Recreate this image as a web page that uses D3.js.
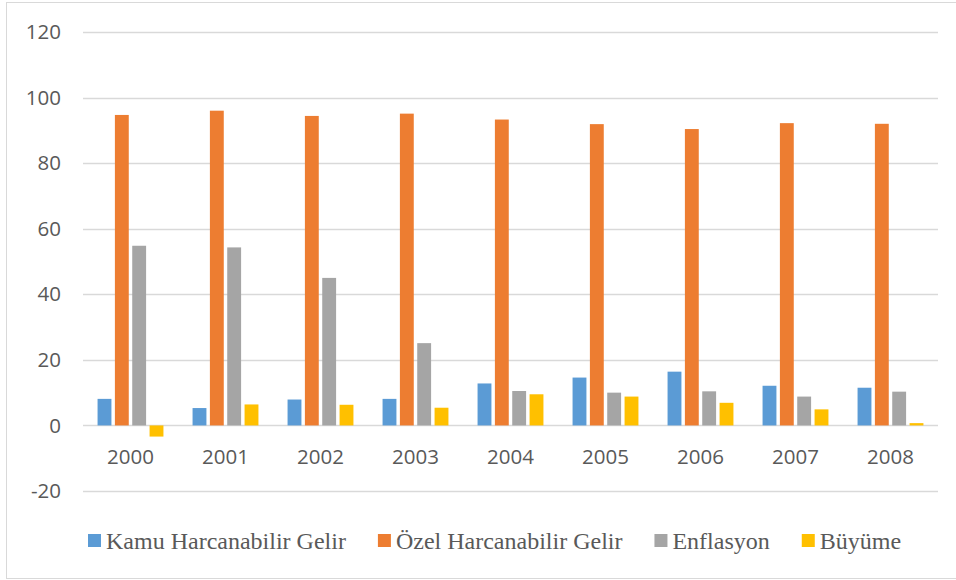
<!DOCTYPE html>
<html>
<head>
<meta charset="utf-8">
<script src="https://cdn.jsdelivr.net/npm/d3@7"></script>
<style>
  body { margin: 0; background: #fff; }
  svg { display: block; }
</style>
</head>
<body>
<div id="chart"></div>
<script>
// values
var years = ["2000", "2001", "2002", "2003", "2004", "2005", "2006", "2007", "2008"];
var seriesNames = ["Kamu Harcanabilir Gelir", "Özel Harcanabilir Gelir", "Enflasyon", "Büyüme"];
var seriesColors = ["#5B9BD5", "#ED7D31", "#A5A5A5", "#FFC000"];
var kamu = [8.1, 5.3, 7.9, 8.1, 12.8, 14.6, 16.4, 12.1, 11.5];
var ozel = [94.7, 96.0, 94.4, 95.1, 93.3, 91.9, 90.4, 92.2, 92.0];
var enflasyon = [54.8, 54.3, 45.0, 25.1, 10.5, 10.0, 10.4, 8.8, 10.3];
var buyume = [-3.4, 6.4, 6.3, 5.4, 9.5, 8.8, 6.9, 4.9, 0.7];
var yTicks = [-20, 0, 20, 40, 60, 80, 100, 120];

var seriesValues = [kamu, ozel, enflasyon, buyume];

var width = 956, height = 580;
var margin = {top: 32, right: 18, bottom: 89, left: 83};

var svg = d3.select("#chart").append("svg")
    .attr("width", width)
    .attr("height", height);

// chart frame
svg.append("rect")
    .attr("x", 6.5).attr("y", 2.5)
    .attr("width", width - 6).attr("height", height - 4)
    .attr("fill", "none")
    .attr("stroke", "#d9d9d9")
    .attr("stroke-width", 1);

var x0 = d3.scaleBand()
    .domain(years)
    .range([margin.left, width - margin.right])
    .paddingInner(0.27)
    .paddingOuter(0.135);

var x1 = d3.scaleBand()
    .domain(d3.range(seriesNames.length))
    .range([0, x0.bandwidth()])
    .paddingInner(0.2)
    .paddingOuter(0.1);

var y = d3.scaleLinear()
    .domain([-20, 120])
    .range([height - margin.bottom, margin.top]);

// gridlines
svg.append("g")
    .selectAll("line")
    .data(yTicks)
    .join("line")
    .attr("x1", margin.left)
    .attr("x2", width - margin.right)
    .attr("y1", function (d) { return Math.round(y(d)) + 0.5; })
    .attr("y2", function (d) { return Math.round(y(d)) + 0.5; })
    .attr("stroke", "#d9d9d9")
    .attr("stroke-width", 1.4);

// y tick labels
svg.append("g")
    .selectAll("text")
    .data(yTicks)
    .join("text")
    .attr("x", 61)
    .attr("y", function (d) { return y(d); })
    .attr("dy", "0.35em")
    .attr("text-anchor", "end")
    .attr("font-family", "'Open Sans', sans-serif")
    .attr("font-size", 20.5)
    .attr("fill", "#595959")
    .text(function (d) { return d; });

// bars
var groups = svg.append("g")
    .selectAll("g")
    .data(years)
    .join("g")
    .attr("transform", function (d) { return "translate(" + x0(d) + ",0)"; });

groups.selectAll("rect")
    .data(function (d, i) {
        return seriesValues.map(function (vals, s) { return {s: s, v: vals[i]}; });
    })
    .join("rect")
    .attr("x", function (d) { return x1(d.s); })
    .attr("width", x1.bandwidth())
    .attr("y", function (d) { return y(Math.max(0, d.v)); })
    .attr("height", function (d) { return Math.abs(y(d.v) - y(0)); })
    .attr("fill", function (d) { return seriesColors[d.s]; });

// category labels
svg.append("g")
    .selectAll("text")
    .data(years)
    .join("text")
    .attr("x", function (d) { return x0(d) + x0.bandwidth() / 2; })
    .attr("y", 464)
    .attr("text-anchor", "middle")
    .attr("font-family", "'Open Sans', sans-serif")
    .attr("font-size", 20.5)
    .attr("fill", "#595959")
    .text(function (d) { return d; });

// legend
var legend = svg.append("g");
var lx = 88;
seriesNames.forEach(function (name, i) {
    legend.append("rect")
        .attr("x", lx).attr("y", 534)
        .attr("width", 13).attr("height", 13)
        .attr("fill", seriesColors[i]);
    var t = legend.append("text")
        .attr("x", lx + 18)
        .attr("y", 549)
        .attr("font-family", "'Liberation Serif', 'Times New Roman', serif")
        .attr("font-size", 24)
        .attr("fill", "#595959")
        .text(name);
    lx += 18 + t.node().getComputedTextLength() + 32;
});
</script>
</body>
</html>
